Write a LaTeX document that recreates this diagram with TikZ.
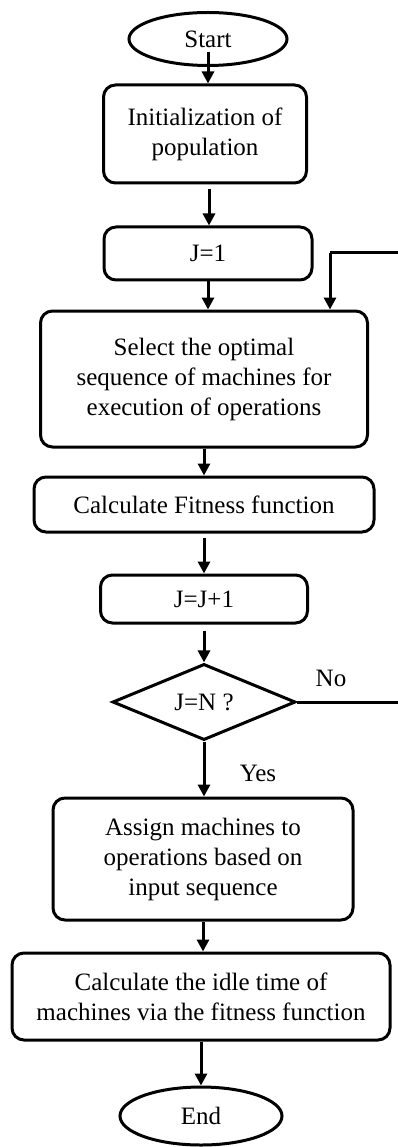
\documentclass[tikz,border=0pt]{standalone}
\usepackage{fontspec}
\setmainfont{Liberation Serif}
\usetikzlibrary{shapes.geometric,arrows.meta,calc}
\begin{document}
\begin{tikzpicture}[x=1pt,y=-1pt,
  every node/.style={font=\fontsize{25}{30}\selectfont, text=black},
  box/.style={draw, line width=3pt, rounded corners=12pt, align=center, inner sep=0pt},
  term/.style={draw, line width=3pt, ellipse, inner sep=0pt},
  dec/.style={draw, line width=3pt, diamond, inner sep=0pt},
  arr/.style={line width=3pt, -{Triangle[width=12pt,length=12pt]}},
  ln/.style={line width=3pt}
]
\useasboundingbox (0,0) rectangle (398,1147);
\node[term, minimum width=158pt, minimum height=53pt] (start) at (208,39) {Start};
\node[box, minimum width=203pt, minimum height=98pt] (init) at (205,134) {Initialization of\\population};
\node[box, minimum width=208pt, minimum height=53pt] (j1) at (208,253.5) {J=1};
\node[box, minimum width=327pt, minimum height=136pt] (sel) at (204,379) {Select the optimal\\sequence of machines for\\execution of operations};
\node[box, minimum width=340pt, minimum height=55pt] (calc) at (204,504.5) {Calculate Fitness function};
\node[box, minimum width=207pt, minimum height=48pt] (jj) at (204,599) {J=J+1};
\node[dec, minimum width=183pt, minimum height=75pt] (dia) at (204,702) {J=N ?};
\node[box, minimum width=300pt, minimum height=122pt] (asg) at (203,859) {Assign machines to\\operations based on\\input sequence};
\node[box, minimum width=378pt, minimum height=87pt] (idle) at (201,996.5) {Calculate the idle time of\\machines via the fitness function};
\node[term, minimum width=162pt, minimum height=58pt] (end) at (201,1116) {End};
\node (no) at (331,678) {No};
\node (yes) at (258,773) {Yes};
\coordinate (loopR) at (398,253);
\coordinate (loopC) at (330,253);
\coordinate (noR) at (398,702);
\coordinate (s0) at ($(start.center)+(0,13)$);
\coordinate (i0) at ($(init.south)+(4,5)$);
\coordinate (c0) at ($(calc.south)+(0,4)$);
\coordinate (jj0) at ($(jj.south)+(0,6)$);

\draw[arr] (s0) -- (s0 |- init.north);
\draw[arr] (i0) -- (i0 |- j1.north);
\draw[arr] (j1.south) -- (j1.south |- sel.north);
\draw[ln] (loopR) -- (loopC);
\draw[arr] (loopC) -- (loopC |- sel.north);
\draw[arr] (sel.south) -- (sel.south |- calc.north);
\draw[arr] (c0) -- (c0 |- jj.north);
\draw[arr] (jj0) -- (jj0 |- dia.north);
\draw[ln] (dia.east) -- (noR);
\draw[arr] (dia.south) -- (dia.south |- asg.north);
\draw[arr] (asg.south) -- (asg.south |- idle.north);
\draw[arr] (idle.south) -- (idle.south |- end.north);
\end{tikzpicture}
\end{document}
